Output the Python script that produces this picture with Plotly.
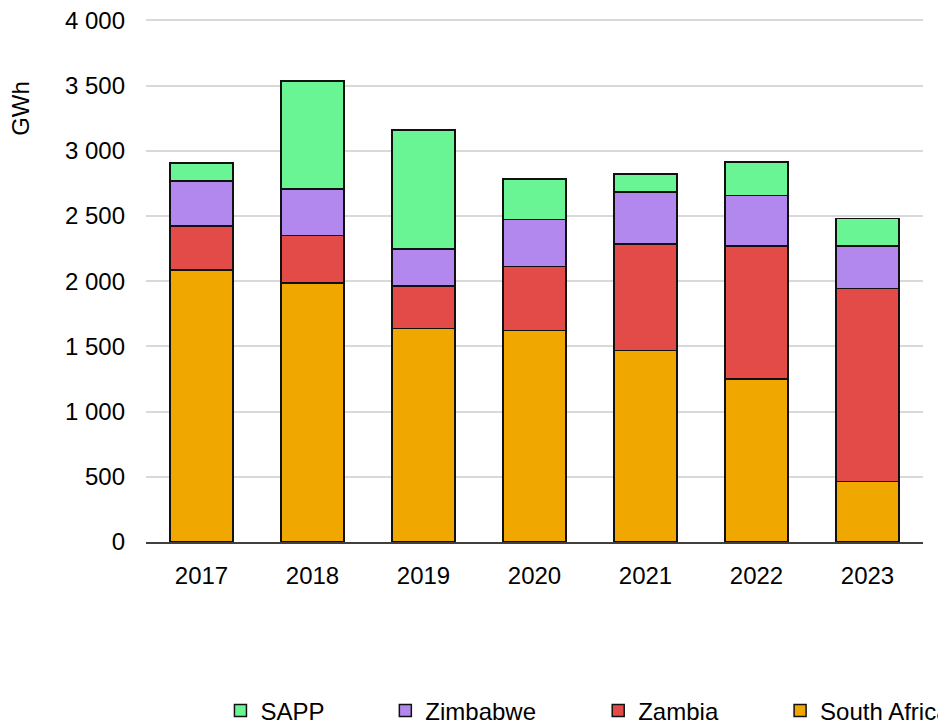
import plotly.graph_objects as go

years = ["2017", "2018", "2019", "2020", "2021", "2022", "2023"]
south_africa = [2087, 1987, 1636, 1621, 1468, 1248, 463]
zambia = [335, 363, 328, 491, 818, 1020, 1480]
zimbabwe = [347, 358, 281, 360, 399, 388, 328]
sapp = [136, 828, 915, 312, 138, 259, 209]
y_ticks = [0, 500, 1000, 1500, 2000, 2500, 3000, 3500, 4000]

series = [
    ("South Africa", south_africa, "#F0A800"),
    ("Zambia", zambia, "#E34B48"),
    ("Zimbabwe", zimbabwe, "#B388EE"),
    ("SAPP", sapp, "#69F593"),
]

FONT = "Liberation Sans, Arial, sans-serif"
OFF = 8  # page body margin offset
YMAX = 4010
W, H = 946 - OFF, 722 - OFF
L, R, B = 145.5 - OFF, 23, 180
ph = 522 * YMAX / 4000
T = H - B - ph
pw = W - L - R

def px2x(px):
    return (px - OFF - L) / pw

def py2y(py):
    return (H - B - (py - OFF)) / ph

legend_text_x = {"SAPP": 260, "Zimbabwe": 425, "Zambia": 638, "South Africa": 820}
legend_names = {"South Africa": "legend4", "Zambia": "legend3", "Zimbabwe": "legend2", "SAPP": "legend"}

fig = go.Figure()
for name, vals, col in series:
    fig.add_trace(go.Bar(
        x=years, y=vals, name=name,
        marker=dict(color=col, line=dict(color="#111111", width=1.5)),
        legend=legend_names[name],
    ))

layout_legends = {}
for name, key in legend_names.items():
    layout_legends[key] = dict(
        x=px2x(legend_text_x[name] - 40), xanchor="left",
        y=py2y(711), yanchor="middle",
        orientation="h",
        font=dict(family=FONT, size=24, color="#000000"),
        bgcolor="rgba(0,0,0,0)", borderwidth=0,
    )

fig.update_layout(
    width=W, height=H,
    barmode="stack", bargap=0.43,
    plot_bgcolor="white", paper_bgcolor="white",
    margin=dict(l=L, r=R, t=T, b=B, autoexpand=False),
    separators=", ",
    font=dict(family=FONT, size=24, color="#000000"),
    showlegend=True,
    **layout_legends,
)
fig.update_xaxes(
    showgrid=False, showline=True, linecolor="#404040", linewidth=1.5,
    ticks="", ticklabelstandoff=11,
    tickfont=dict(family=FONT, size=24, color="#000000"),
)
fig.update_yaxes(
    range=[0, YMAX], tickvals=y_ticks,
    tickformat=",d", showgrid=True, gridcolor="#D9D9D9", gridwidth=2,
    zeroline=False, showline=False, ticks="", ticklabelstandoff=20,
    ticklabeloverflow="allow",
    tickfont=dict(family=FONT, size=24, color="#000000"),
)
fig.add_annotation(
    text="GWh", textangle=-90, xref="paper", yref="paper",
    x=px2x(20), y=py2y(108), xanchor="center", yanchor="middle",
    showarrow=False, font=dict(family=FONT, size=24, color="#000000"),
)
fig.write_html("out.html")
